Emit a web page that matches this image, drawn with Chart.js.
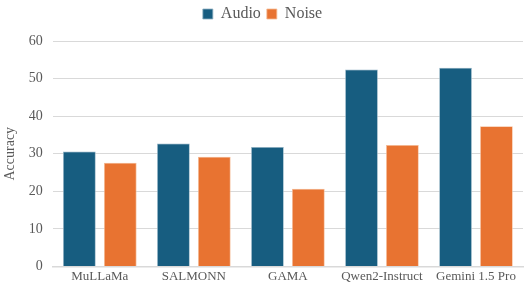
<!DOCTYPE html>
<html>
<head>
<meta charset="UTF-8">
<title>Accuracy: Audio vs Noise</title>
<script src="https://cdn.jsdelivr.net/npm/chart.js"></script>
<style>
  html, body { margin: 0; padding: 0; background: #fff; }
  #wrap { width: 525px; height: 286px; }
</style>
</head>
<body>
<div id="wrap"><canvas id="chart"></canvas></div>
<script>
// data
var models = ['MuLLaMa', 'SALMONN', 'GAMA', 'Qwen2-Instruct', 'Gemini 1.5 Pro'];
var audio = [30.6, 32.7, 31.8, 52.4, 52.9];
var noise = [27.6, 29.2, 20.7, 32.3, 37.3];
var yTicks = [0, 10, 20, 30, 40, 50, 60];

var serif = '"Liberation Serif", "DejaVu Serif", serif';
var grey = '#595959';

// a bit more room under the legend
var legendGap = {
  id: 'legendGap',
  beforeInit: function (chart) {
    var fit = chart.legend.fit;
    chart.legend.fit = function () {
      fit.bind(chart.legend)();
      this.height += 9;
    };
  }
};

new Chart(document.getElementById('chart'), {
  type: 'bar',
  data: {
    labels: models,
    datasets: [
      { label: 'Audio', data: audio, backgroundColor: '#175d80', borderColor: '#8fb0c2', borderWidth: 0.8 },
      { label: 'Noise', data: noise, backgroundColor: '#e87331', borderColor: '#f5bb96', borderWidth: 0.8 }
    ]
  },
  options: {
    responsive: true,
    maintainAspectRatio: false,
    animation: false,
    layout: { padding: { left: 2, right: 2, top: 0, bottom: 0 } },
    datasets: { bar: { categoryPercentage: 0.87, barPercentage: 0.8 } },
    plugins: {
      legend: {
        position: 'top',
        labels: {
          color: grey,
          font: { family: serif, size: 16 },
          boxWidth: 10,
          boxHeight: 10,
          padding: 6
        }
      },
      tooltip: { enabled: false }
    },
    scales: {
      x: {
        grid: { display: false, drawTicks: false },
        border: { color: '#d9d9d9', width: 1.5 },
        ticks: { color: grey, font: { family: serif, size: 13 }, maxRotation: 0, padding: 2 }
      },
      y: {
        min: 0,
        max: 60,
        afterBuildTicks: function (axis) {
          axis.ticks = yTicks.map(function (v) { return { value: v }; });
        },
        grid: { color: '#d9d9d9', drawTicks: false },
        border: { display: false },
        ticks: { color: grey, font: { family: serif, size: 14 }, padding: 10 },
        title: {
          display: true,
          text: 'Accuracy',
          color: grey,
          font: { family: serif, size: 14 },
          padding: { top: 0, bottom: 0 }
        }
      }
    }
  },
  plugins: [legendGap]
});
</script>
</body>
</html>
